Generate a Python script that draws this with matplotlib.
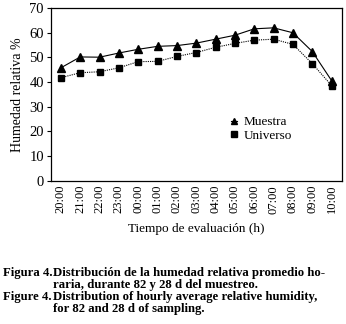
import matplotlib.pyplot as plt

# datos
horas = ['20:00', '21:00', '22:00', '23:00', '00:00', '01:00', '02:00', '03:00',
         '04:00', '05:00', '06:00', '07:00', '08:00', '09:00', '10:00']
muestra = [45.8, 50.2, 50.1, 51.8, 53.3, 54.5, 54.8, 55.8, 57.4, 59.0, 61.6, 62.0, 60.0, 52.4, 40.6]
universo = [41.8, 43.8, 44.2, 45.8, 48.3, 48.4, 50.4, 52.0, 54.1, 55.7, 57.0, 57.4, 55.3, 47.5, 38.6]

plt.rcParams['font.family'] = ['Liberation Serif', 'DejaVu Serif']

fig = plt.figure(figsize=(3.46, 3.24), dpi=100)
ax = fig.add_axes([0.147, 0.442, 0.841, 0.533])

x = list(range(len(horas)))
ax.plot(x, muestra, color='black', linestyle='-', linewidth=0.8,
        marker='^', markersize=5.5, label='Muestra')
ax.plot(x, universo, color='black', linestyle=(0, (1, 1)), linewidth=0.8,
        marker='s', markersize=5, label='Universo')

ax.set_ylim(0, 70)
ax.set_yticks(range(0, 71, 10))
ax.set_xlim(-0.52, 14.53)
ax.set_xticks(x)
ax.set_xticklabels(horas, rotation=90, fontsize=9)
ax.tick_params(axis='x', length=0, pad=3)
ax.tick_params(axis='y', labelsize=10.5, length=3, width=0.8, pad=2)
for s in ax.spines.values():
    s.set_linewidth(0.9)

ax.set_ylabel('Humedad relativa %', fontsize=10, labelpad=4)
ax.set_xlabel('Tiempo de evaluación (h)', fontsize=9.5, labelpad=7)

ax.legend(loc='center left', bbox_to_anchor=(0.595, 0.3), frameon=False, fontsize=9.5,
          handlelength=0.5, handletextpad=0.5, labelspacing=0.1, borderpad=0,
          markerscale=0.8)

# leyenda de la figura
cap = dict(fontsize=9.2, fontweight='bold', va='baseline')
fig.text(0.008, 1 - 276 / 324, 'Figura 4.', **cap)
fig.text(0.152, 1 - 276 / 324, 'Distribución de la humedad relativa promedio ho-', **cap)
fig.text(0.152, 1 - 288 / 324, 'raria, durante 82 y 28 d del muestreo.', **cap)
fig.text(0.008, 1 - 300 / 324, 'Figure 4.', **cap)
fig.text(0.152, 1 - 300 / 324, 'Distribution of hourly average relative humidity,', **cap)
fig.text(0.152, 1 - 312 / 324, 'for 82 and 28 d of sampling.', **cap)

plt.savefig('out.png', dpi=100)
